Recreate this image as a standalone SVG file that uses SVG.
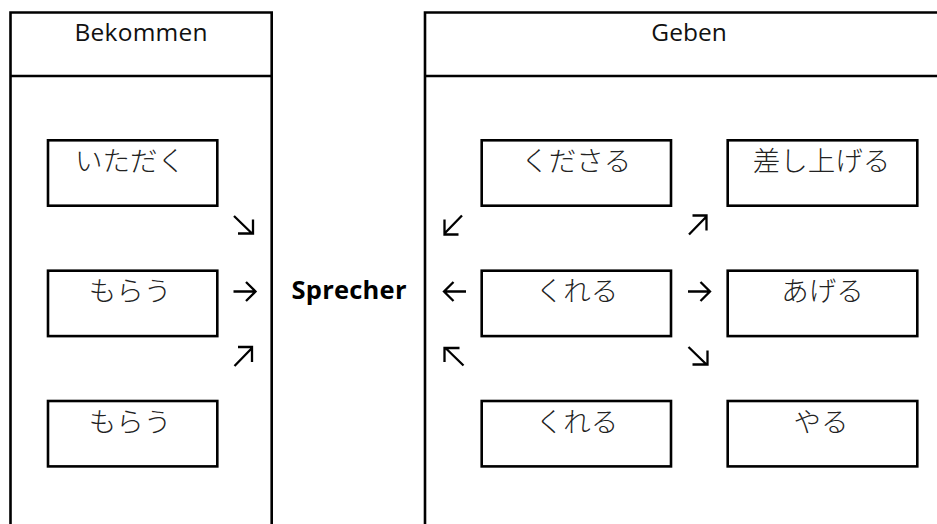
<svg xmlns="http://www.w3.org/2000/svg" xmlns:xlink="http://www.w3.org/1999/xlink" width="937" height="524" viewBox="0 0 937 524">
  <style>
    .frame { fill: none; stroke: #000; stroke-width: 2.6; }
    .box { fill: #fff; stroke: #000; stroke-width: 2.6; }
    .hdr { font-family: "Open Sans", "Liberation Sans", sans-serif; font-size: 24.5px; fill: #111; text-anchor: middle; }
    .spk { font-family: "Open Sans", "Liberation Sans", sans-serif; font-size: 25.5px; font-weight: bold; fill: #000; text-anchor: middle; }
    .jp { font-family: "Noto Sans CJK JP", sans-serif; font-size: 27.5px; font-weight: 300; fill: #222; text-anchor: middle; }
    .arr { fill: none; stroke: #000; stroke-width: 2.3; stroke-linecap: butt; stroke-linejoin: miter; }
  </style>
  <defs>
    <path id="adiag" class="arr" d="M-9.5,-9 L8.5,8.5 M-5.5,8.5 H9.5 V-5.5"/>
    <path id="ahor" class="arr" d="M-11,0 H11 M1.5,-9.5 L11,0 L1.5,9.5"/>
  </defs>
  <rect width="937" height="524" fill="#fff"/>

  <g id="panel-bekommen">
    <path class="frame" d="M10.5,530 V12.5 H271.7 V530"/>
    <line class="frame" x1="10.5" y1="76" x2="271.7" y2="76"/>
    <text class="hdr" x="141" y="41" textLength="133" lengthAdjust="spacing">Bekommen</text>
  </g>

  <g id="panel-geben">
    <path class="frame" d="M425,530 V12.5 H950"/>
    <line class="frame" x1="425" y1="76" x2="950" y2="76"/>
    <text class="hdr" x="689" y="41">Geben</text>
  </g>

  <g id="sprecher">
    <text class="spk" x="349" y="299" textLength="115" lengthAdjust="spacing">Sprecher</text>
  </g>

  <g id="itadaku">
    <rect class="box" x="48" y="140.3" width="169.3" height="65.4"/>
    <text class="jp" x="130" y="171">いただく</text>
  </g>
  <g id="morau-1">
    <rect class="box" x="48" y="270.7" width="169.3" height="65.4"/>
    <text class="jp" x="130" y="301.4">もらう</text>
  </g>
  <g id="morau-2">
    <rect class="box" x="48" y="401" width="169.3" height="65.4"/>
    <text class="jp" x="130" y="431.7">もらう</text>
  </g>

  <g id="kudasaru">
    <rect class="box" x="481.7" y="140.3" width="189.3" height="65.4"/>
    <text class="jp" x="576.3" y="171">くださる</text>
  </g>
  <g id="kureru-1">
    <rect class="box" x="481.7" y="270.7" width="189.3" height="65.4"/>
    <text class="jp" x="577" y="301.4">くれる</text>
  </g>
  <g id="kureru-2">
    <rect class="box" x="481.7" y="401" width="189.3" height="65.4"/>
    <text class="jp" x="577" y="431.7">くれる</text>
  </g>

  <g id="sashiageru">
    <rect class="box" x="727.7" y="140.3" width="189.6" height="65.4"/>
    <text class="jp" x="821.5" y="171">差し上げる</text>
  </g>
  <g id="ageru">
    <rect class="box" x="727.7" y="270.7" width="189.6" height="65.4"/>
    <text class="jp" x="822.5" y="301.4">あげる</text>
  </g>
  <g id="yaru">
    <rect class="box" x="727.7" y="401" width="189.6" height="65.4"/>
    <text class="jp" x="821" y="431.7">やる</text>
  </g>

  <g id="connectors">
    <use xlink:href="#adiag" href="#adiag" transform="translate(243.5,225)"/>
    <use xlink:href="#ahor" href="#ahor" transform="translate(244.5,291.5)"/>
    <use xlink:href="#adiag" href="#adiag" transform="translate(243.5,356.5) rotate(-90)"/>

    <use xlink:href="#adiag" href="#adiag" transform="translate(453,225) rotate(90)"/>
    <use xlink:href="#ahor" href="#ahor" transform="translate(455,291.5) rotate(180)"/>
    <use xlink:href="#adiag" href="#adiag" transform="translate(454,356.5) rotate(180)"/>

    <use xlink:href="#adiag" href="#adiag" transform="translate(698,225) rotate(-90)"/>
    <use xlink:href="#ahor" href="#ahor" transform="translate(699,291.5)"/>
    <use xlink:href="#adiag" href="#adiag" transform="translate(698,356)"/>
  </g>
</svg>
